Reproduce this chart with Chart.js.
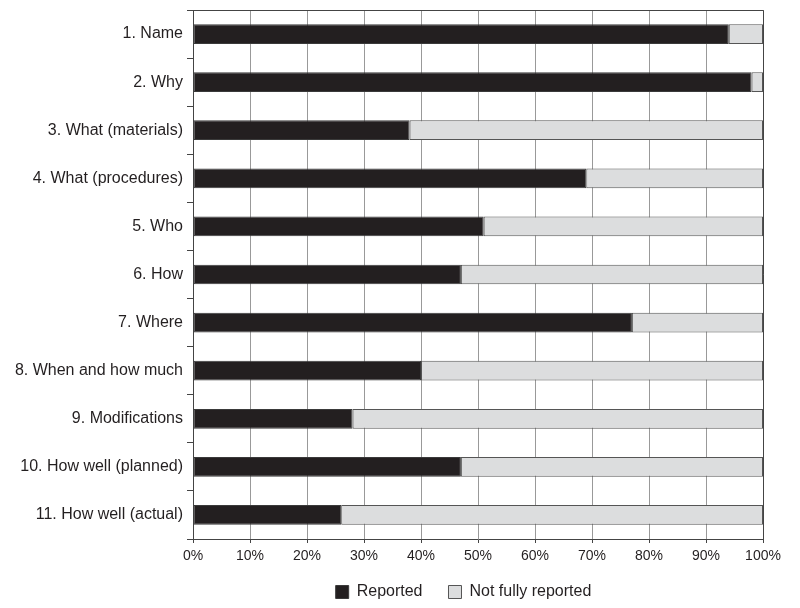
<!DOCTYPE html>
<html>
<head>
<meta charset="utf-8">
<script src="https://cdn.jsdelivr.net/npm/chart.js@4"></script>
<style>
  html, body { margin: 0; padding: 0; background: #fff; }
  #wrap { width: 800px; height: 608px; }
</style>
</head>
<body>
<div id="wrap"><canvas id="chart" width="800" height="608"></canvas></div>
<script>
// ==================== DATA ====================
const categories = [
  '1. Name',
  '2. Why',
  '3. What (materials)',
  '4. What (procedures)',
  '5. Who',
  '6. How',
  '7. Where',
  '8. When and how much',
  '9. Modifications',
  '10. How well (planned)',
  '11. How well (actual)'
];
const reported = [94, 98, 38, 69, 51, 47, 77, 40, 28, 47, 26];
const notFullyReported = [6, 2, 62, 31, 49, 53, 23, 60, 72, 53, 74];
const xTicks = [0, 10, 20, 30, 40, 50, 60, 70, 80, 90, 100];

const textColor = '#231f20';

// draw the top and right edges of the plot box
const frame = {
  id: 'frame',
  afterDatasetsDraw(chart) {
    const { ctx, chartArea: a } = chart;
    ctx.save();
    ctx.strokeStyle = '#444';
    ctx.lineWidth = 1;
    ctx.beginPath();
    ctx.moveTo(a.left, a.top + 0.5);
    ctx.lineTo(a.right + 0.5, a.top + 0.5);
    ctx.lineTo(a.right + 0.5, a.bottom);
    ctx.stroke();
    ctx.restore();
  }
};

// the legend sits right of centre in the original, nudge it there
const legendShift = {
  id: 'legendShift',
  afterLayout(chart) {
    const lg = chart.legend;
    lg.left += 82;
    lg.right += 82;
    lg.top -= 7;
    lg.bottom -= 7;
  }
};

new Chart(document.getElementById('chart'), {
  type: 'bar',
  data: {
    labels: categories,
    datasets: [
      {
        label: 'Reported',
        data: reported,
        backgroundColor: '#231f20',
        borderColor: '#3a3a3a',
        borderWidth: 1,
        borderSkipped: false,
        barPercentage: 0.41,
        categoryPercentage: 1
      },
      {
        label: 'Not fully reported',
        data: notFullyReported,
        backgroundColor: '#dcddde',
        borderColor: '#555',
        borderWidth: 1,
        borderSkipped: false,
        barPercentage: 0.41,
        categoryPercentage: 1
      }
    ]
  },
  options: {
    indexAxis: 'y',
    responsive: false,
    animation: false,
    layout: { padding: { top: 10, right: 37, left: 0, bottom: -9 } },
    scales: {
      x: {
        stacked: true,
        min: 0,
        max: 100,
        afterBuildTicks: s => { s.ticks = xTicks.map(v => ({ value: v })); },
        grid: { color: '#999', tickLength: 4, tickColor: '#444' },
        border: { color: '#444' },
        ticks: {
          color: textColor,
          font: { family: 'Liberation Sans', size: 14 },
          padding: 5,
          maxRotation: 0,
          callback: v => v + '%'
        },
        afterFit: s => { s.height = 26; }
      },
      y: {
        stacked: true,
        grid: { drawOnChartArea: false, tickLength: 6, tickColor: '#444' },
        border: { color: '#444' },
        ticks: {
          color: textColor,
          font: { family: 'Liberation Sans', size: 16 },
          padding: 4
        },
        afterFit: s => {
          s.width = 193;
          s.paddingTop = 0;
          s.paddingBottom = 0;
        }
      }
    },
    plugins: {
      legend: {
        position: 'bottom',
        labels: {
          color: textColor,
          font: { family: 'Liberation Sans', size: 16 },
          boxWidth: 13,
          boxHeight: 13,
          padding: 26
        }
      },
      tooltip: { enabled: false }
    }
  },
  plugins: [frame, legendShift]
});
</script>
</body>
</html>
